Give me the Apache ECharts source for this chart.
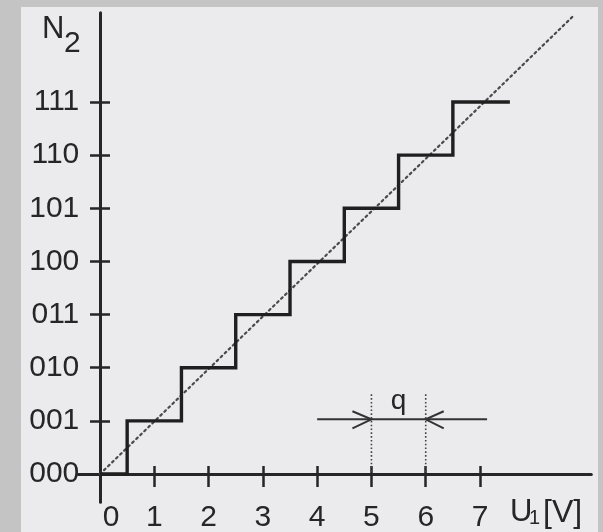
<!DOCTYPE html>
<html>
<head>
<meta charset="utf-8">
<script src="https://cdn.jsdelivr.net/npm/echarts@6/dist/echarts.min.js"></script>
<style>
  html, body { margin: 0; padding: 0; }
  body { width: 603px; height: 532px; background: #c4c4c4; position: relative; overflow: hidden; }
  #paper { position: absolute; left: 21px; top: 7px; width: 577px; height: 525px; background: #ebebee; }
  #chart { position: absolute; left: 0; top: 0; width: 603px; height: 532px; }
</style>
</head>
<body>
<div id="paper"></div>
<div id="chart"></div>
<script>
// ---- data ----
const xTickValues = [0, 1, 2, 3, 4, 5, 6, 7];
const yTickValues = [0, 1, 2, 3, 4, 5, 6, 7];
const yCodes = ['000', '001', '010', '011', '100', '101', '110', '111'];
// staircase: input voltage points and output code levels (step at midpoints)
const stairU = [0, 1, 2, 3, 4, 5, 6, 7, 7.55];
const stairN = [0, 1, 2, 3, 4, 5, 6, 7, 7];
// ideal (dotted) characteristic
const idealU = [0, 8.7];
const idealN = [0, 8.6];
// quantization step annotation q
const qStart = 5, qEnd = 6;
const qLevel = 1.03;
const qLineFrom = 4.0, qLineTo = 7.13;
const qGuideTop = 1.5;

const INK = '#262626';
const FONT = 'Liberation Sans, Arial, sans-serif';

const chart = echarts.init(document.getElementById('chart'), null, { renderer: 'canvas' });

const xMin = -0.4, xMax = 9.05, yMin = -0.53, yMax = 8.68;

const option = {
  backgroundColor: 'transparent',
  animation: false,
  grid: { left: 78.3, right: 603 - 591.3, top: 12.7, bottom: 29.8, containLabel: false, outerBoundsMode: 'none' },
  xAxis: [
    {
      type: 'value', min: xMin, max: xMax, position: 'bottom',
      axisLine: { show: true, onZero: true, lineStyle: { color: INK, width: 3 } },
      axisTick: { show: true, inside: false, length: 13, customValues: xTickValues, lineStyle: { color: INK, width: 2.5 } },
      axisLabel: {
        show: true, customValues: xTickValues, margin: 1,
        color: INK, fontFamily: FONT, fontSize: 30,
        formatter: v => v === 0 ? '{z|0}' : String(v),
        rich: { z: { padding: [0, 0, 0, 22], color: INK, fontFamily: FONT, fontSize: 30 } }
      },
      splitLine: { show: false }
    },
    {
      type: 'value', min: xMin, max: xMax, position: 'top',
      axisLine: { show: false, onZero: true },
      axisTick: { show: true, inside: false, length: 8, customValues: xTickValues, lineStyle: { color: INK, width: 2.5 } },
      axisLabel: { show: false },
      splitLine: { show: false }
    }
  ],
  yAxis: [
    {
      type: 'value', min: yMin, max: yMax, position: 'left',
      axisLine: { show: true, onZero: true, lineStyle: { color: INK, width: 3 } },
      axisTick: { show: true, inside: false, length: 10, customValues: yTickValues, lineStyle: { color: INK, width: 2.5 } },
      axisLabel: {
        show: true, customValues: yTickValues, margin: -1,
        color: INK, fontFamily: FONT, fontSize: 30,
        formatter: v => yCodes[Math.round(v)]
      },
      splitLine: { show: false }
    },
    {
      type: 'value', min: yMin, max: yMax, position: 'right',
      axisLine: { show: false, onZero: true },
      axisTick: { show: true, inside: false, length: 10, customValues: yTickValues, lineStyle: { color: INK, width: 2.5 } },
      axisLabel: { show: false },
      splitLine: { show: false }
    }
  ],
  series: [
    {
      name: 'ideal', type: 'line', xAxisIndex: 0, yAxisIndex: 0,
      data: idealU.map((u, i) => [u, idealN[i]]),
      showSymbol: false, symbol: 'none',
      lineStyle: { color: '#4a4a4a', width: 2.2, type: [2, 3.6], cap: 'round' },
      z: 3
    },
    {
      name: 'ADC', type: 'line', xAxisIndex: 0, yAxisIndex: 0,
      step: 'middle',
      data: stairU.map((u, i) => [u, stairN[i]]),
      showSymbol: false, symbol: 'none',
      lineStyle: { color: '#1f1f1f', width: 3.4, join: 'miter' },
      z: 4
    },
    {
      name: 'q', type: 'custom', xAxisIndex: 0, yAxisIndex: 0,
      data: [[qStart, qLevel]],
      renderItem: function (params, api) {
        const a = api.coord([qLineFrom, qLevel]);
        const b = api.coord([qLineTo, qLevel]);
        const l = api.coord([qStart, qLevel]);
        const r = api.coord([qEnd, qLevel]);
        const lTop = api.coord([qStart, qGuideTop]);
        const l0 = api.coord([qStart, 0]);
        const rTop = api.coord([qEnd, qGuideTop]);
        const r0 = api.coord([qEnd, 0]);
        const stroke = { stroke: '#333', lineWidth: 2, fill: null };
        const dotted = { stroke: '#444', lineWidth: 1.6, lineDash: [1.6, 2.2], fill: null };
        return {
          type: 'group',
          children: [
            { type: 'line', shape: { x1: a[0], y1: a[1], x2: b[0], y2: b[1] }, style: stroke },
            { type: 'polyline', shape: { points: [[l[0] - 19, l[1] - 8], [l[0], l[1]], [l[0] - 19, l[1] + 9]] }, style: stroke },
            { type: 'polyline', shape: { points: [[r[0] + 18, r[1] - 8], [r[0], r[1]], [r[0] + 18, r[1] + 9]] }, style: stroke },
            { type: 'line', shape: { x1: lTop[0], y1: lTop[1], x2: l0[0], y2: l0[1] }, style: dotted },
            { type: 'line', shape: { x1: rTop[0], y1: rTop[1], x2: r0[0], y2: r0[1] }, style: dotted },
            { type: 'text', x: (l[0] + r[0]) / 2, y: l[1] - 4,
              style: { text: 'q', fill: INK, font: '28px ' + FONT, align: 'center', verticalAlign: 'bottom' } }
          ]
        };
      },
      z: 5
    }
  ],
  graphic: [
    { type: 'text', left: 42, top: 14, style: { text: 'N', fill: INK, font: '31px ' + FONT } },
    { type: 'text', left: 64, top: 29, style: { text: '2', fill: INK, font: '30px ' + FONT } },
    { type: 'text', left: 510, top: 497, style: { text: 'U', fill: INK, font: '31px ' + FONT } },
    { type: 'text', left: 529, top: 508, style: { text: '1', fill: INK, font: '20px ' + FONT } },
    { type: 'text', left: 543, top: 497, style: { text: '[V]', fill: INK, font: '32px ' + FONT } }
  ]
};

chart.setOption(option);
</script>
</body>
</html>
